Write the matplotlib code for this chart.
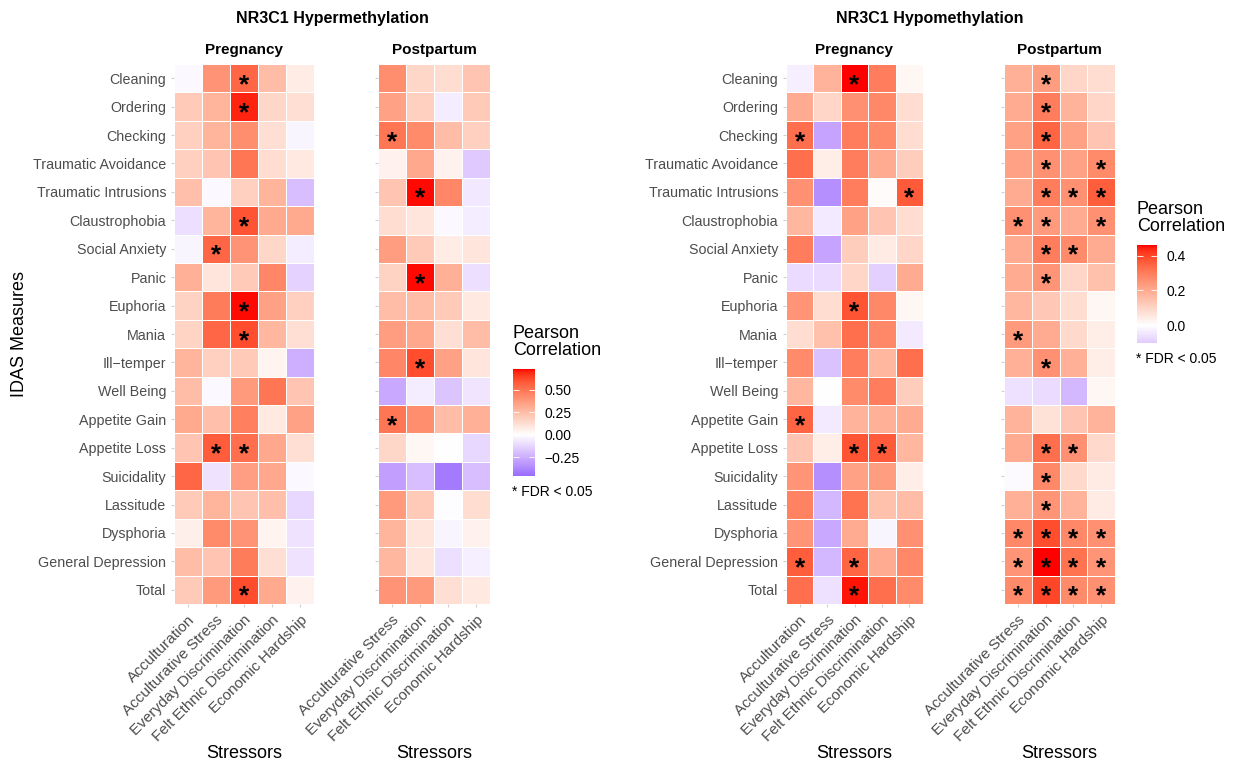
import numpy as np
import matplotlib
matplotlib.use('Agg')
import matplotlib.pyplot as plt
from matplotlib.colors import LinearSegmentedColormap, Normalize

plt.rcParams['font.family'] = ['Liberation Sans', 'DejaVu Sans']

measures = ['Cleaning', 'Ordering', 'Checking', 'Traumatic Avoidance', 'Traumatic Intrusions',
            'Claustrophobia', 'Social Anxiety', 'Panic', 'Euphoria', 'Mania', 'Ill\u2212temper',
            'Well Being', 'Appetite Gain', 'Appetite Loss', 'Suicidality', 'Lassitude',
            'Dysphoria', 'General Depression', 'Total']
stressors_preg = ['Acculturation', 'Acculturative Stress', 'Everyday Discrimination',
                  'Felt Ethnic Discrimination', 'Economic Hardship']
stressors_post = ['Acculturative Stress', 'Everyday Discrimination',
                  'Felt Ethnic Discrimination', 'Economic Hardship']

# NR3C1 hypermethylation
hyper_preg = [
    [-0.02, 0.40, 0.55, 0.25, 0.07],
    [0.20, 0.28, 0.70, 0.15, 0.12],
    [0.18, 0.28, 0.42, 0.12, -0.03],
    [0.18, 0.22, 0.50, 0.13, 0.08],
    [0.24, -0.02, 0.18, 0.28, -0.20],
    [-0.10, 0.28, 0.60, 0.32, 0.32],
    [-0.03, 0.55, 0.40, 0.15, -0.06],
    [0.30, 0.10, 0.20, 0.45, -0.14],
    [0.17, 0.48, 0.72, 0.35, 0.18],
    [0.16, 0.55, 0.62, 0.27, 0.12],
    [0.28, 0.18, 0.20, 0.04, -0.25],
    [0.25, -0.02, 0.38, 0.50, 0.22],
    [0.32, 0.24, 0.47, 0.08, 0.35],
    [0.22, 0.58, 0.52, 0.33, 0.12],
    [0.55, -0.09, 0.36, 0.33, -0.02],
    [0.20, 0.28, 0.22, 0.24, -0.12],
    [0.06, 0.43, 0.40, 0.04, -0.09],
    [0.25, 0.22, 0.48, 0.12, -0.09],
    [0.20, 0.38, 0.62, 0.32, 0.05],
]
hyper_preg_sig = ["..*..", "..*..", ".....", ".....", ".....", "..*..", ".*...", ".....",
                  "..*..", "..*..", ".....", ".....", ".....", ".**..", ".....", ".....",
                  ".....", ".....", "..*.."]
hyper_post = [
    [0.42, 0.15, 0.13, 0.22],
    [0.35, 0.18, -0.06, 0.20],
    [0.50, 0.43, 0.25, 0.18],
    [0.05, 0.33, 0.05, -0.17],
    [0.22, 0.72, 0.45, -0.07],
    [0.13, 0.10, -0.02, -0.06],
    [0.37, 0.20, 0.07, 0.10],
    [0.17, 0.72, 0.30, -0.10],
    [0.25, 0.25, 0.20, 0.08],
    [0.37, 0.33, 0.12, 0.25],
    [0.45, 0.62, 0.35, 0.10],
    [-0.27, -0.06, -0.18, -0.08],
    [0.50, 0.42, 0.25, 0.30],
    [0.15, 0.03, 0.00, -0.12],
    [-0.30, -0.20, -0.42, -0.20],
    [0.38, 0.20, -0.01, 0.13],
    [0.28, 0.10, -0.03, 0.05],
    [0.27, 0.10, -0.10, -0.05],
    [0.40, 0.38, 0.12, 0.08],
]
hyper_post_sig = ["....", "....", "*...", "....", ".*..", "....", "....", ".*..", "....",
                  "....", ".*..", "....", "*...", "....", "....", "....", "....", "....", "...."]

# NR3C1 hypomethylation
hypo_preg = [
    [-0.03, 0.18, 0.46, 0.30, 0.02],
    [0.20, 0.10, 0.26, 0.28, 0.08],
    [0.33, -0.18, 0.30, 0.27, 0.08],
    [0.33, 0.04, 0.30, 0.20, 0.12],
    [0.26, -0.22, 0.30, 0.01, 0.37],
    [0.17, -0.04, 0.22, 0.14, 0.08],
    [0.30, -0.18, 0.12, 0.05, 0.10],
    [-0.07, -0.07, 0.10, -0.09, 0.20],
    [0.25, 0.08, 0.38, 0.28, 0.02],
    [0.08, 0.15, 0.33, 0.28, -0.04],
    [0.27, -0.12, 0.30, 0.17, 0.33],
    [0.17, 0.00, 0.27, 0.30, 0.12],
    [0.35, -0.04, 0.18, 0.19, 0.20],
    [0.14, 0.04, 0.38, 0.37, 0.17],
    [0.25, -0.22, 0.22, 0.23, 0.04],
    [0.29, -0.14, 0.32, 0.15, 0.16],
    [0.25, -0.17, 0.20, -0.02, 0.26],
    [0.36, -0.14, 0.35, 0.20, 0.28],
    [0.33, -0.06, 0.45, 0.33, 0.27],
]
hypo_preg_sig = ["..*..", ".....", "*....", ".....", "....*", ".....", ".....", ".....",
                 "..*..", ".....", ".....", ".....", "*....", "..**.", ".....", ".....",
                 ".....", "*.*..", "..*.."]
hypo_post = [
    [0.19, 0.23, 0.10, 0.08],
    [0.20, 0.30, 0.18, 0.10],
    [0.22, 0.35, 0.22, 0.14],
    [0.22, 0.26, 0.22, 0.27],
    [0.20, 0.30, 0.26, 0.36],
    [0.26, 0.24, 0.20, 0.26],
    [0.20, 0.30, 0.27, 0.20],
    [0.20, 0.25, 0.10, 0.15],
    [0.17, 0.13, 0.08, 0.02],
    [0.24, 0.20, 0.09, 0.04],
    [0.19, 0.26, 0.19, 0.04],
    [-0.06, -0.07, -0.14, 0.02],
    [0.18, 0.07, 0.14, 0.18],
    [0.20, 0.33, 0.26, 0.09],
    [-0.01, 0.28, 0.09, 0.05],
    [0.19, 0.25, 0.18, 0.05],
    [0.28, 0.39, 0.28, 0.26],
    [0.25, 0.46, 0.32, 0.25],
    [0.27, 0.40, 0.27, 0.26],
]
hypo_post_sig = [".*..", ".*..", ".*..", ".*.*", ".***", "**.*", ".**.", ".*..", "....",
                 "*...", ".*..", "....", "....", ".**.", ".*..", ".*..", "****", "****", "****"]

# legend ranges as shown in the two colour bars
hyper_lims = [-0.46, 0.73]
hyper_ticks = [0.50, 0.25, 0.00, -0.25]
hypo_lims = [-0.10, 0.46]
hypo_ticks = [0.4, 0.2, 0.0]

# --- ggplot-like gradient2 (interpolated in Lab) ---
M = np.array([[0.4124, 0.3576, 0.1805], [0.2126, 0.7152, 0.0722], [0.0193, 0.1192, 0.9505]])
WHITE = np.array([0.95047, 1.0, 1.08883])


def to_lab(rgb):
    c = np.asarray(rgb, float)
    lin = np.where(c > 0.04045, ((c + 0.055) / 1.055) ** 2.4, c / 12.92)
    xyz = M @ lin / WHITE
    f = np.where(xyz > 0.008856, np.cbrt(xyz), 7.787 * xyz + 16 / 116)
    return np.array([116 * f[1] - 16, 500 * (f[0] - f[1]), 200 * (f[1] - f[2])])


def from_lab(lab):
    L, a, b = lab
    fy = (L + 16) / 116
    f = np.array([fy + a / 500, fy, fy - b / 200])
    xyz = np.where(f ** 3 > 0.008856, f ** 3, (f - 16 / 116) / 7.787) * WHITE
    lin = np.clip(np.linalg.solve(M, xyz), 0, 1)
    c = np.where(lin > 0.0031308, 1.055 * lin ** (1 / 2.4) - 0.055, 12.92 * lin)
    return np.clip(c, 0, 1)


lo, mid, hi = to_lab([0, 0, 1]), to_lab([1, 1, 1]), to_lab([1, 0, 0])
cols = [from_lab(lo * (1 - t) + mid * t) for t in np.linspace(0, 1, 64)]
cols += [from_lab(mid * (1 - t) + hi * t) for t in np.linspace(0, 1, 64)[1:]]
cmap = LinearSegmentedColormap.from_list('gradient2', cols)

W, H = 1242, 768
fig = plt.figure(figsize=(12.42, 7.68), dpi=100)
TXT = '#4d4d4d'


def fig_rect(rect):
    return [rect[0] / W, 1 - rect[3] / H, (rect[2] - rect[0]) / W, (rect[3] - rect[1]) / H]


def draw_panel(rect, vals, sig, xlabels, norm, title, ylabels):
    ax = fig.add_axes(fig_rect(rect))
    vals = np.array(vals)
    nr, nc = vals.shape
    ax.pcolormesh(np.arange(nc + 1), np.arange(nr + 1), vals, cmap=cmap, norm=norm,
                  edgecolors='white', linewidth=0.4)
    for i, row in enumerate(sig):
        for j, ch in enumerate(row):
            if ch == '*':
                ax.text(j + 0.5, i + 0.74, '*', ha='center', va='center', fontsize=19,
                        fontweight='bold', color='black')
    ax.set_xlim(0, nc)
    ax.set_ylim(nr, 0)
    ax.set_xticks(np.arange(nc) + 0.5)
    ax.set_xticklabels(xlabels, rotation=45, ha='right', va='top', rotation_mode='anchor')
    ax.set_yticks(np.arange(nr) + 0.5)
    if ylabels:
        ax.set_yticklabels(measures)
    else:
        ax.set_yticklabels([])
        ax.tick_params(axis='y', length=0)
    for s in ax.spines.values():
        s.set_visible(False)
    ax.tick_params(length=2.5, color='#d0d0d0', labelcolor=TXT, pad=3)
    ax.tick_params(axis='x', labelsize=11, pad=4)
    ax.tick_params(axis='y', labelsize=10.3)
    ax.set_title(title, fontsize=11, fontweight='bold', pad=7)
    fig.text((rect[0] + rect[2]) / 2 / W, 1 - 753 / H, 'Stressors', fontsize=13,
             ha='center', va='center')
    return ax


def draw_legend(rect, lims, ticks, fmt):
    cax = fig.add_axes(fig_rect(rect))
    norm = Normalize(-lims[1], lims[1])
    grad = np.linspace(lims[0], lims[1], 200)[:, None]
    cax.imshow(grad, cmap=cmap, norm=norm, aspect='auto', origin='lower',
               extent=[0, 1, lims[0], lims[1]])
    cax.set_xticks([])
    cax.set_yticks(ticks)
    cax.set_yticklabels([fmt.format(t).replace('-', '\u2212') for t in ticks])
    cax.tick_params(axis='y', left=True, right=True, labelleft=False, labelright=True,
                    direction='in', length=4, width=0.6, color='white', labelsize=10,
                    labelcolor='black', pad=7)
    for s in cax.spines.values():
        s.set_visible(False)
    x0 = rect[0] / W
    fig.text(x0, 1 - (rect[1] - 10) / H, 'Pearson\nCorrelation', fontsize=13, ha='left',
             va='bottom', linespacing=1.0)
    fig.text(x0 - 1 / W, 1 - (rect[3] + 16) / H, '* FDR < 0.05', fontsize=10, ha='left', va='center')


norm_hyper = Normalize(-hyper_lims[1], hyper_lims[1])
norm_hypo = Normalize(-hypo_lims[1], hypo_lims[1])

draw_panel([174, 64, 314, 604], hyper_preg, hyper_preg_sig, stressors_preg, norm_hyper, 'Pregnancy', True)
draw_panel([378, 64, 490, 604], hyper_post, hyper_post_sig, stressors_post, norm_hyper, 'Postpartum', False)
draw_panel([786, 64, 923, 604], hypo_preg, hypo_preg_sig, stressors_preg, norm_hypo, 'Pregnancy', True)
draw_panel([1004, 64, 1115, 604], hypo_post, hypo_post_sig, stressors_post, norm_hypo, 'Postpartum', False)

draw_legend([513, 369, 535, 476], hyper_lims, hyper_ticks, '{:.2f}')
draw_legend([1137, 245, 1157, 343], hypo_lims, hypo_ticks, '{:.1f}')

fig.text(332 / W, 1 - 18 / H, 'NR3C1 Hypermethylation', fontsize=11.5, fontweight='bold', ha='center', va='center')
fig.text(930 / W, 1 - 18 / H, 'NR3C1 Hypomethylation', fontsize=11.5, fontweight='bold', ha='center', va='center')
fig.text(20 / W, 1 - 334 / H, 'IDAS Measures', fontsize=13, rotation=90, ha='center', va='center')

fig.savefig('out.png', dpi=100)
